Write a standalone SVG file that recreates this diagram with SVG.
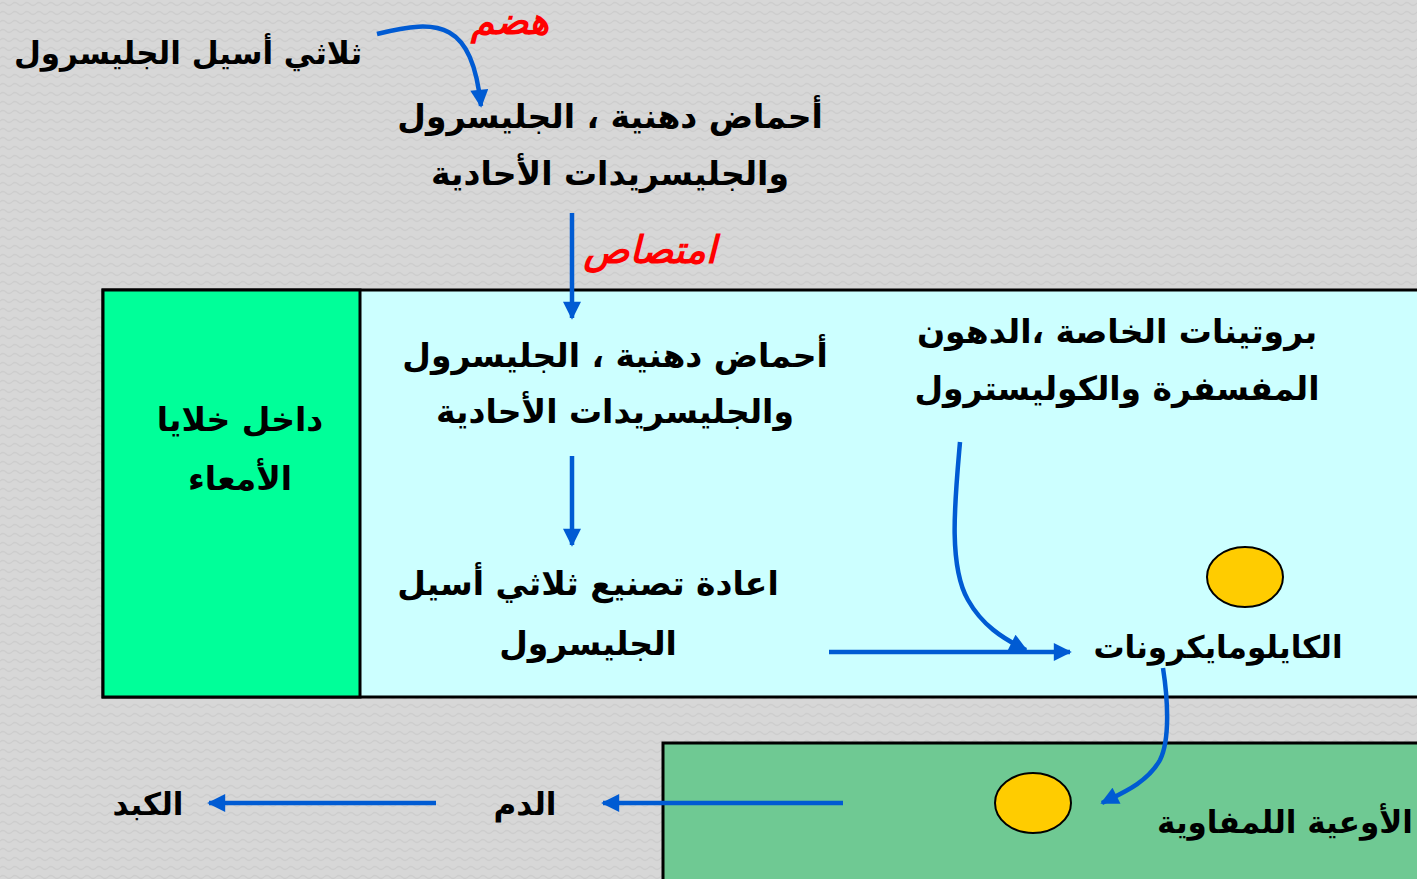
<svg xmlns="http://www.w3.org/2000/svg" width="1417" height="879" viewBox="0 0 1417 879">
<style>
.t{font-family:"DejaVu Sans","Noto Sans",sans-serif;font-weight:bold;font-size:31px;fill:#000;text-anchor:middle}
.b{font-size:33px}
.r{font-family:"DejaVu Sans","Noto Sans",sans-serif;font-weight:bold;font-style:italic;font-size:38px;fill:#ff0000;text-anchor:middle}
.a{fill:none;stroke:#005bd3;stroke-width:4.5}
</style>
<defs>
<pattern id="bg" width="12" height="9" patternUnits="userSpaceOnUse">
<rect width="12" height="9" fill="#d7d7d7"/>
<path d="M0,4 Q3,1 6,4 T12,4" fill="none" stroke="#cdcdcd" stroke-width="1.2"/>
</pattern>
<marker id="ah" viewBox="0 0 10 10" refX="9" refY="5" markerWidth="4.4" markerHeight="4" markerUnits="strokeWidth" orient="auto">
<path d="M0,0 L10,5 L0,10 Z" fill="#005bd3"/>
</marker>
</defs>
<rect width="1417" height="879" fill="url(#bg)"/>
<g id="cell-box">
<rect x="103" y="290" width="1330" height="407" fill="#ccffff" stroke="#000" stroke-width="3"/>
</g>
<g id="intestine-cells">
<rect x="103" y="290" width="257" height="407" fill="#00ff99" stroke="#000" stroke-width="3"/>
<text class="t b" x="240" y="431">داخل خلايا</text>
<text class="t b" x="240" y="490">الأمعاء</text>
</g>
<g id="lymph-box">
<rect x="663" y="743" width="780" height="160" fill="#6fc993" stroke="#000" stroke-width="3"/>
<text class="t" x="1285" y="833">الأوعية اللمفاوية</text>
</g>
<g id="chylo-ball1"><ellipse cx="1245" cy="577" rx="38" ry="30" fill="#ffcc00" stroke="#000" stroke-width="2"/></g>
<g id="chylo-ball2"><ellipse cx="1033" cy="803" rx="38" ry="30" fill="#ffcc00" stroke="#000" stroke-width="2"/></g>
<g id="tag"><text class="t" x="188" y="64">ثلاثي أسيل الجليسرول</text></g>
<g id="digest-label"><text class="r" x="510" y="34">هضم</text></g>
<g id="products"><text class="t b" x="610" y="128">أحماض دهنية ، الجليسرول</text><text class="t b" x="610" y="185">والجليسريدات الأحادية</text></g>
<g id="absorb-label"><text class="r" x="650" y="263">امتصاص</text></g>
<g id="products-in"><text class="t b" x="615" y="367">أحماض دهنية ، الجليسرول</text><text class="t b" x="615" y="423">والجليسريدات الأحادية</text></g>
<g id="proteins"><text class="t b" x="1117" y="343">بروتينات الخاصة ،الدهون</text><text class="t b" x="1117" y="400">المفسفرة والكوليسترول</text></g>
<g id="resynth"><text class="t b" x="588" y="595">اعادة تصنيع ثلاثي أسيل</text><text class="t b" x="588" y="655">الجليسرول</text></g>
<g id="chylomicrons"><text class="t" x="1218" y="658">الكايلومايكرونات</text></g>
<g id="blood"><text class="t" x="525" y="815">الدم</text></g>
<g id="liver"><text class="t" x="148" y="815">الكبد</text></g>
<g id="connectors">
<path class="a" marker-end="url(#ah)" d="M377,34 C440,18 472,22 481,106"/>
<path class="a" marker-end="url(#ah)" d="M572,213 L572,318"/>
<path class="a" marker-end="url(#ah)" d="M572,456 L572,545"/>
<path class="a" marker-end="url(#ah)" d="M829,652 L1070,652"/>
<path class="a" marker-end="url(#ah)" d="M960,442 C955,500 948,565 968,600 C982,625 1002,638 1026,650"/>
<path class="a" marker-end="url(#ah)" d="M1163,668 C1168,700 1170,740 1160,760 C1147,783 1122,793 1102,803"/>
<path class="a" marker-end="url(#ah)" d="M843,803 L603,803"/>
<path class="a" marker-end="url(#ah)" d="M436,803 L209,803"/>
</g>
</svg>
